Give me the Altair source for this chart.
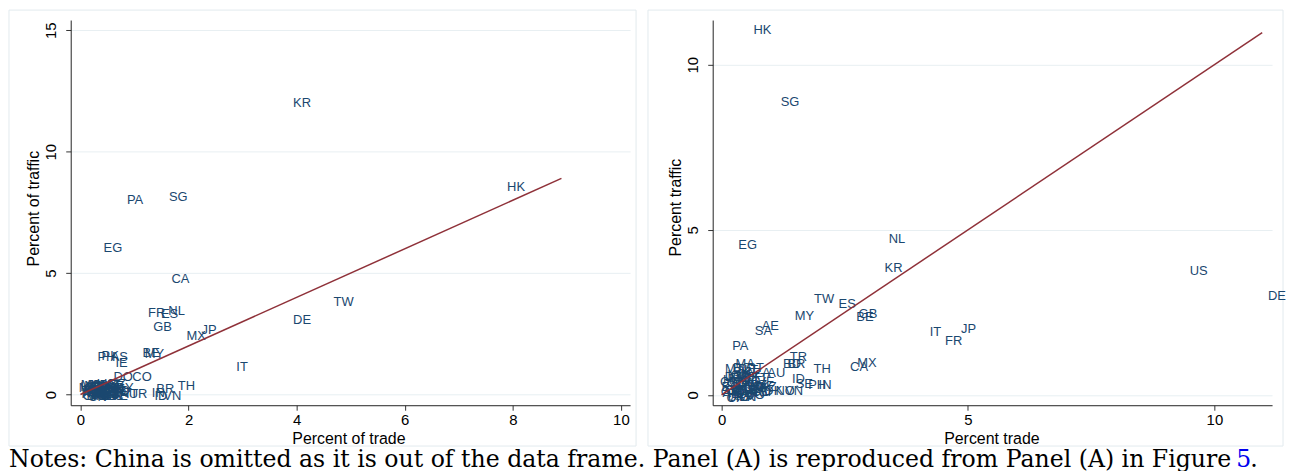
import altair as alt
import pandas as pd

# ---------------- Panel A (left) ----------------
a_codes = ["KR", "HK", "PA", "SG", "EG", "CA", "TW", "DE", "FR", "ES", "NL", "GB", "MX", "JP", "IT", "TH",
           "BE", "MY", "PH", "PK", "AS", "IE", "DO", "CO", "NZ", "IN", "BR", "ID", "VN", "AU", "TR",
           "AR", "CL", "PE", "ZA", "NO", "SE", "DK", "FI", "AT", "CH", "PL", "CZ", "HU", "RO", "PT",
           "GR", "NG", "KW", "QA", "OM", "SA", "AE", "IQ", "MA", "LK", "BD", "MO", "UA",
           "KE", "GH", "CI", "SN", "TZ", "AO", "JO", "LB", "YE", "EC", "UY", "VE", "GT", "CR", "JM",
           "TT", "DZ", "TN", "IR", "BG", "HR", "SI", "CY"]
a_trade = [4.10, 8.06, 1.01, 1.81, 0.60, 1.85, 4.87, 4.10, 1.41, 1.65, 1.78, 1.52, 2.14, 2.38, 2.99, 1.96,
           1.31, 1.37, 0.48, 0.55, 0.72, 0.76, 0.79, 1.14, 0.68, 1.44, 1.57, 1.49, 1.70, 0.90, 1.08,
           0.20, 0.25, 0.30, 0.35, 0.22, 0.40, 0.28, 0.33, 0.45, 0.50, 0.38, 0.55, 0.30, 0.42, 0.60,
           0.48, 0.25, 0.35, 0.52, 0.62, 0.70, 0.65, 0.18, 0.15, 0.45, 0.75, 0.20, 0.58,
           0.18, 0.22, 0.27, 0.32, 0.37, 0.42, 0.47, 0.53, 0.57, 0.63, 0.67, 0.72, 0.78, 0.24, 0.29,
           0.41, 0.51, 0.56, 0.66, 0.36, 0.17, 0.61, 0.82]
a_traffic = [12.02, 8.55, 8.02, 8.14, 6.02, 4.76, 3.79, 3.08, 3.37, 3.33, 3.45, 2.76, 2.39, 2.67, 1.12, 0.35,
             1.73, 1.68, 1.55, 1.58, 1.53, 1.28, 0.71, 0.71, 0.42, 0.05, 0.22, -0.07, -0.07, 0.03, 0.02,
             0.02, 0.10, 0.05, 0.12, 0.20, 0.03, -0.05, 0.00, 0.08, 0.15, 0.25, 0.02, 0.30, 0.18, 0.10,
             -0.05, 0.35, 0.40, 0.30, 0.22, 0.05, 0.35, 0.12, 0.28, 0.42, 0.15, 0.40, -0.02,
             0.05, -0.08, 0.18, -0.10, 0.06, -0.08, 0.20, -0.08, 0.12, -0.06, 0.15, -0.05, 0.08, 0.27, 0.38,
             0.33, 0.40, 0.25, 0.28, -0.03, 0.33, 0.42, 0.25]
a_line = [0.0, 8.9]
a_xticks = [0, 2, 4, 6, 8, 10]
a_yticks = [0, 5, 10, 15]

# ---------------- Panel B (right) ----------------
b_codes = ["HK", "SG", "EG", "NL", "KR", "US", "DE", "TW", "ES", "GB", "BE", "MY", "AE", "SA", "IT", "JP",
           "FR", "PA", "MX", "CA", "TR", "BR", "BD", "TH", "MA", "MT", "BG", "PT", "ZA", "AU", "ID",
           "SE", "PH", "IN", "DK", "NO", "VN",
           "AR", "CL", "PE", "FI", "AT", "CH", "PL", "CZ", "HU", "RO", "GR", "NG", "KW", "QA", "OM",
           "IL", "IE", "NZ", "CO", "DO", "UA", "LK", "PK", "EC", "UY", "KE", "VE",
           "GH", "CI", "SN", "TZ", "AO", "JO", "LB", "YE", "GT", "CR", "JM", "TT", "DZ", "TN", "IR",
           "HR", "SI", "CY", "KZ", "SK", "LT"]
b_trade = [0.83, 1.39, 0.53, 3.56, 3.49, 9.68, 11.27, 2.08, 2.55, 2.97, 2.91, 1.68, 0.99, 0.85, 4.34, 5.01,
           4.71, 0.38, 2.95, 2.79, 1.56, 1.52, 1.43, 2.04, 0.48, 0.26, 0.42, 0.69, 0.83, 1.11, 1.56,
           1.68, 1.94, 2.10, 1.05, 1.29, 1.47,
           0.20, 0.25, 0.30, 0.35, 0.40, 0.45, 0.50, 0.28, 0.22, 0.38, 0.55, 0.60, 0.33, 0.48, 0.65,
           0.70, 0.58, 0.75, 0.80, 0.68, 0.42, 0.52, 0.85, 0.18, 0.30, 0.62, 0.90,
           0.18, 0.23, 0.27, 0.32, 0.37, 0.43, 0.47, 0.53, 0.57, 0.63, 0.72, 0.78, 0.24, 0.35, 0.45,
           0.66, 0.88, 0.15, 0.95, 0.40, 0.60]
b_traffic = [11.05, 8.87, 4.54, 4.72, 3.84, 3.76, 3.00, 2.91, 2.76, 2.45, 2.36, 2.40, 2.10, 1.95, 1.91, 2.00,
             1.64, 1.47, 0.98, 0.86, 1.14, 0.95, 0.95, 0.80, 0.95, 0.80, 0.83, 0.83, 0.65, 0.65, 0.47,
             0.32, 0.29, 0.29, 0.11, 0.11, 0.11,
             0.05, 0.15, 0.02, 0.10, 0.20, 0.05, 0.30, 0.35, 0.45, 0.50, 0.12, 0.40, 0.60, 0.62, 0.25,
             0.48, 0.55, 0.30, 0.10, 0.00, -0.03, -0.05, 0.20, 0.25, -0.06, 0.65, 0.40,
             0.08, -0.08, 0.28, 0.12, -0.07, 0.18, 0.40, 0.15, -0.05, 0.15, 0.20, 0.50, 0.55, 0.38, 0.55,
             0.05, 0.10, 0.40, 0.25, 0.70, 0.75]
b_line = [0.0, 10.97]
b_xticks = [0, 5, 10]
b_yticks = [0, 5, 10]

note_text = "Notes: China is omitted as it is out of the data frame. Panel (A) is reproduced from Panel (A) in Figure "
note_link = "5"
note_end = "."

LABEL_COLOR = "#1a476f"
LINE_COLOR = "#8f3139"
GRID_COLOR = "#e8eff2"
FRAME_COLOR = "#e2eaee"
SANS = "Liberation Sans"


def panel(codes, xs, ys, line_pts, xdom, ydom, xticks, yticks, xtitle, ytitle, frame, title_x, title_y):
    df = pd.DataFrame({"code": codes, "x": xs, "y": ys})
    ldf = pd.DataFrame({"x": line_pts, "y": line_pts})
    xsc = alt.Scale(domain=xdom, nice=False, zero=False)
    ysc = alt.Scale(domain=ydom, nice=False, zero=False)
    xaxis = alt.Axis(values=xticks, title=xtitle, grid=False, format="d",
                     labelFontSize=15, labelFont=SANS, labelColor="black", labelPadding=2,
                     titleFontSize=16, titleFont=SANS, titleFontWeight="normal", titleColor="black",
                     titleX=title_x, titleY=33, titleBaseline="middle", titleAlign="center",
                     tickSize=5, tickColor="#333333", domainColor="#222222")
    yaxis = alt.Axis(values=yticks, title=ytitle, grid=True, gridColor=GRID_COLOR, format="d",
                     labelFontSize=15, labelFont=SANS, labelColor="black", labelAngle=-90,
                     labelAlign="center", labelBaseline="bottom", labelPadding=7,
                     titleFontSize=16, titleFont=SANS, titleFontWeight="normal", titleColor="black",
                     titleAngle=-90, titleX=-37, titleY=title_y, titleBaseline="middle", titleAlign="center",
                     tickSize=5, tickColor="#333333", domainColor="#222222")
    fx1, fx2, fy1, fy2 = frame
    frame_layer = alt.Chart(pd.DataFrame({"k": [0]})).mark_rect(
        fill="white", fillOpacity=0, stroke=FRAME_COLOR, strokeWidth=1
    ).encode(x=alt.value(fx1), x2=alt.value(fx2), y=alt.value(fy1), y2=alt.value(fy2))
    text_layer = alt.Chart(df).mark_text(
        font=SANS, fontSize=13, color=LABEL_COLOR, align="center", baseline="middle"
    ).encode(
        x=alt.X("x:Q", scale=xsc, axis=xaxis),
        y=alt.Y("y:Q", scale=ysc, axis=yaxis),
        text="code:N",
    )
    line_layer = alt.Chart(ldf).mark_line(color=LINE_COLOR, strokeWidth=1.5).encode(
        x=alt.X("x:Q", scale=xsc), y=alt.Y("y:Q", scale=ysc)
    )
    return alt.layer(frame_layer, text_layer, line_layer).properties(width=562, height=387)


left = panel(a_codes, a_trade, a_traffic, a_line, [-0.18, 10.17], [-0.44, 15.42],
             a_xticks, a_yticks, "Percent of trade", "Percent of traffic",
             (-62, 568, -10, 428), 279, 189)
right = panel(b_codes, b_trade, b_traffic, b_line, [-0.18, 11.17], [-0.31, 11.35],
              b_xticks, b_yticks, "Percent trade", "Percent traffic",
              (-65, 573, -10, 428), 280, 188)

top = alt.hconcat(left, right, spacing=10)

NOTE_FONT = "DejaVu Serif"
NOTE_SIZE = 23.7
notes = alt.layer(
    alt.Chart(pd.DataFrame({"t": [note_text]})).mark_text(
        font=NOTE_FONT, fontSize=NOTE_SIZE, color="black", align="left", baseline="alphabetic"
    ).encode(text="t:N", x=alt.value(-62), y=alt.value(20)),
    alt.Chart(pd.DataFrame({"t": [note_link]})).mark_text(
        font=NOTE_FONT, fontSize=NOTE_SIZE, color="#0000ee", align="left", baseline="alphabetic"
    ).encode(text="t:N", x=alt.value(1171), y=alt.value(20)),
    alt.Chart(pd.DataFrame({"t": [note_end]})).mark_text(
        font=NOTE_FONT, fontSize=NOTE_SIZE, color="black", align="left", baseline="alphabetic"
    ).encode(text="t:N", x=alt.value(1185), y=alt.value(20)),
).properties(width=1150, height=22)

chart = alt.vconcat(top, notes, spacing=0).properties(padding=0).configure_view(stroke=None)

chart.save("out.html", embed_options={"renderer": "svg", "actions": False})
